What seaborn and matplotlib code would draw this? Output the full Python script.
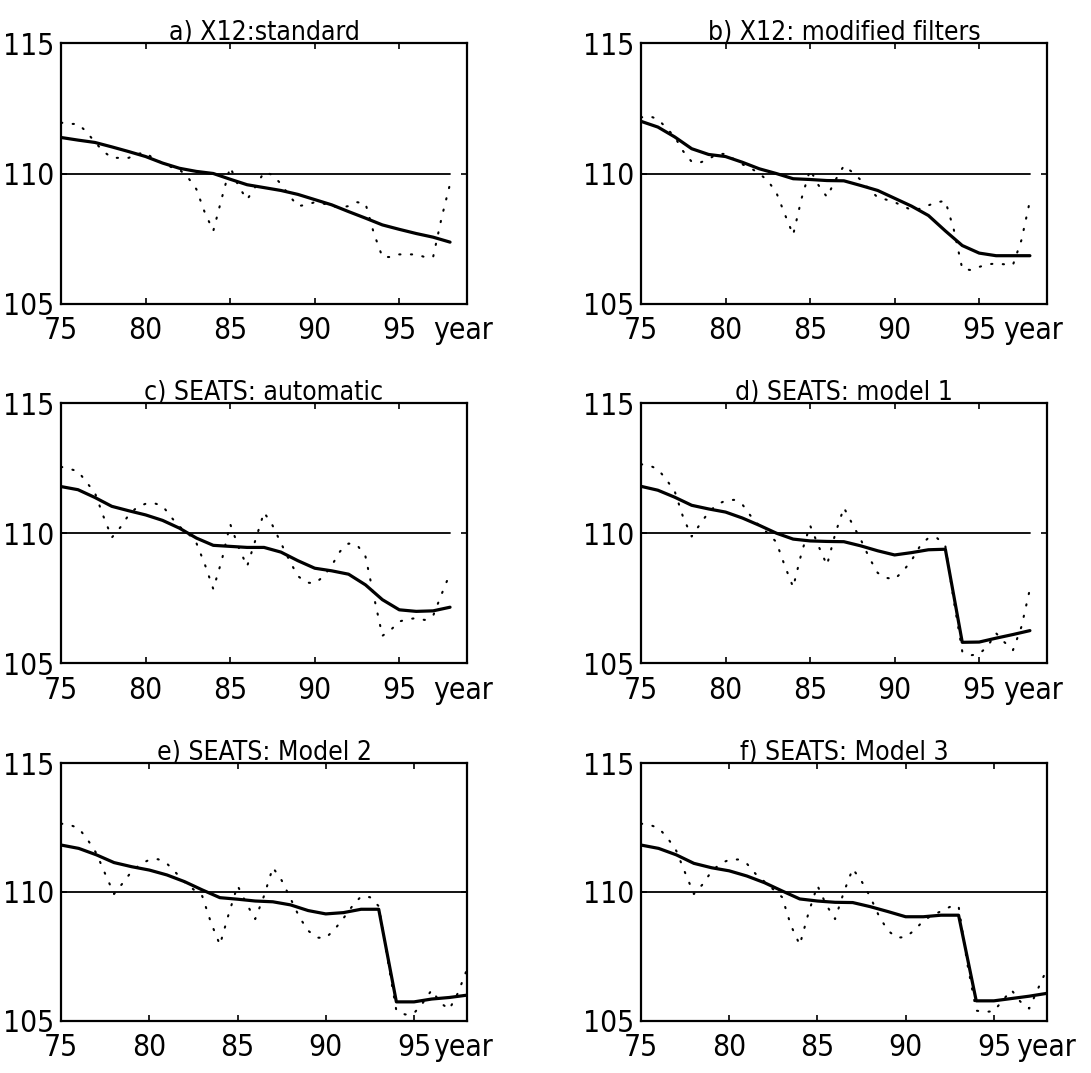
import numpy as np
import pandas as pd
import matplotlib
matplotlib.use("Agg")
import matplotlib.pyplot as plt
from matplotlib import font_manager
import seaborn as sns

# Годы
years = np.arange(75, 99)
half_years = np.arange(75, 98.01, 0.5)

# Тренд (сплошная линия), по годам 75..98
trend_a = [111.38, 111.28, 111.19, 111.02, 110.84, 110.65, 110.4, 110.2, 110.08, 110.0,
           109.78, 109.57, 109.46, 109.35, 109.2, 109.0, 108.8, 108.54, 108.29, 108.03,
           107.86, 107.7, 107.56, 107.37]
trend_b = [112.0, 111.78, 111.4, 110.95, 110.73, 110.65, 110.43, 110.18, 110.0, 109.8,
           109.77, 109.73, 109.72, 109.54, 109.35, 109.05, 108.75, 108.39, 107.8, 107.24,
           106.95, 106.85, 106.85, 106.85]
trend_c = [111.79, 111.67, 111.37, 111.03, 110.86, 110.7, 110.49, 110.19, 109.81, 109.53,
           109.49, 109.45, 109.45, 109.27, 108.94, 108.65, 108.55, 108.42, 108.01, 107.44,
           107.05, 106.99, 107.01, 107.15]
trend_d = [111.8, 111.65, 111.38, 111.07, 110.93, 110.81, 110.58, 110.3, 110.0, 109.77,
           109.7, 109.68, 109.67, 109.51, 109.32, 109.16, 109.25, 109.36, 109.38, 105.8,
           105.81, 105.96, 106.1, 106.25]
trend_e = [111.82, 111.69, 111.44, 111.14, 110.98, 110.85, 110.66, 110.4, 110.08, 109.78,
           109.72, 109.65, 109.62, 109.5, 109.28, 109.15, 109.2, 109.33, 109.33, 105.74,
           105.74, 105.85, 105.91, 106.0]
trend_f = [111.82, 111.69, 111.44, 111.11, 110.94, 110.82, 110.62, 110.36, 110.04, 109.73,
           109.65, 109.6, 109.59, 109.43, 109.24, 109.04, 109.04, 109.1, 109.1, 105.78,
           105.78, 105.87, 105.96, 106.07]

# Исходный ряд (пунктир), по полугодиям 75..98
raw_a = [111.95, 111.9, 111.9, 111.6, 111.2, 110.85, 110.6, 110.6, 110.6, 110.75,
         110.8, 110.55, 110.4, 110.25, 110.15, 109.85, 109.4, 108.5, 107.8, 109.05,
         110.25, 109.5, 109.0, 109.5, 110.05, 109.95, 109.6, 109.15, 108.75, 108.8,
         108.9, 108.85, 108.75, 108.7, 108.75, 108.9, 108.85, 107.7, 106.8, 106.8,
         106.9, 106.9, 106.9, 106.8, 106.8, 108.3, 109.6]
raw_b = [112.15, 112.2, 112.08, 111.75, 111.4, 110.85, 110.45, 110.42, 110.55, 110.75,
         110.75, 110.55, 110.35, 110.2, 110.0, 109.72, 109.28, 108.45, 107.65, 109.05,
         110.15, 109.55, 109.1, 109.75, 110.3, 110.05, 109.75, 109.4, 109.08, 109.0,
         108.9, 108.75, 108.6, 108.65, 108.78, 108.9, 108.95, 107.85, 106.35, 106.3,
         106.42, 106.52, 106.55, 106.52, 106.5, 107.45, 108.95]
raw_c = [112.55, 112.47, 112.38, 111.96, 111.55, 110.65, 109.83, 110.22, 110.7, 111.0,
         111.13, 111.15, 111.05, 110.62, 110.25, 110.0, 109.62, 108.8, 107.85, 108.95,
         110.35, 109.45, 108.72, 109.75, 110.8, 110.3, 109.62, 108.95, 108.35, 108.1,
         108.07, 108.32, 108.75, 109.3, 109.6, 109.55, 109.1, 107.55, 106.05, 106.28,
         106.6, 106.69, 106.73, 106.66, 106.82, 107.65, 108.45]
raw_d = [112.65, 112.6, 112.46, 112.06, 111.6, 110.6, 109.87, 110.35, 110.8, 111.1,
         111.25, 111.28, 111.1, 110.65, 110.28, 110.0, 109.66, 108.75, 107.92, 109.25,
         110.3, 109.5, 108.77, 110.0, 110.98, 110.35, 109.75, 109.05, 108.47, 108.28,
         108.23, 108.54, 108.95, 109.5, 109.82, 109.82, 109.5, 107.4, 105.45, 105.3,
         105.35, 105.65, 106.15, 105.8, 105.5, 106.4, 107.85]
raw_e = [112.65, 112.6, 112.47, 112.03, 111.5, 110.7, 109.92, 110.35, 110.8, 111.08,
         111.25, 111.27, 111.1, 110.75, 110.38, 110.1, 109.84, 108.8, 107.95, 109.15,
         110.25, 109.55, 108.95, 109.85, 110.95, 110.45, 109.75, 109.03, 108.5, 108.23,
         108.22, 108.55, 108.98, 109.45, 109.83, 109.8, 109.45, 107.4, 105.4, 105.25,
         105.3, 105.7, 106.2, 105.7, 105.45, 106.1, 107.0]
raw_f = [112.65, 112.6, 112.48, 112.1, 111.6, 110.75, 109.92, 110.3, 110.8, 111.1,
         111.25, 111.26, 111.1, 110.7, 110.4, 110.1, 109.8, 108.7, 107.95, 109.2,
         110.25, 109.5, 108.95, 110.0, 110.9, 110.42, 109.8, 109.05, 108.5, 108.23,
         108.25, 108.52, 108.88, 109.1, 109.25, 109.42, 109.45, 107.2, 105.4, 105.35,
         105.38, 105.8, 106.2, 105.75, 105.48, 106.25, 107.0]

titles = ["a) X12:standard", "b) X12: modified filters", "c) SEATS: automatic",
          "d) SEATS: model 1", "e) SEATS: Model 2", "f) SEATS: Model 3"]
trends = [trend_a, trend_b, trend_c, trend_d, trend_e, trend_f]
raws = [raw_a, raw_b, raw_c, raw_d, raw_e, raw_f]
x_right = [99, 99, 99, 99, 98, 98]
year_pos = [98.8, 98.2, 98.8, 98.2, 97.8, 97.95]
level = 110

sns.set_style("ticks")

# Ищем узкий шрифт, если он есть
narrow_family = None
narrow_stretch = "normal"
for f in font_manager.fontManager.ttflist:
    st = f.stretch
    if isinstance(st, str):
        st_val = font_manager.stretch_dict.get(st, 500)
    else:
        st_val = st
    if st_val <= 300 and f.style == "normal" and f.weight in (400, "normal", "regular"):
        if narrow_family is None or f.name in ("Liberation Sans Narrow", "DejaVu Sans"):
            narrow_family = f.name
            narrow_stretch = st

if narrow_family is None:
    narrow_family = "DejaVu Sans"
    tick_size, title_size = 19, 17
else:
    tick_size, title_size = 21.5, 19

plt.rcParams["font.family"] = [narrow_family, "DejaVu Sans"]
plt.rcParams["font.stretch"] = narrow_stretch
plt.rcParams["text.color"] = "black"
plt.rcParams["xtick.color"] = "black"
plt.rcParams["ytick.color"] = "black"

fig = plt.figure(figsize=(10.91, 10.73), dpi=100)

# Положение панелей
lefts = [0.056, 0.5875]
bottoms = [0.7167, 0.382, 0.0485]
heights = [0.2432, 0.2423, 0.2404]

for i in range(6):
    r, c = divmod(i, 2)
    ax = fig.add_axes([lefts[c], bottoms[r], 0.372, heights[r]])

    df_trend = pd.DataFrame({"year": years, "value": trends[i]})
    df_raw = pd.DataFrame({"year": half_years, "value": raws[i]})

    sns.lineplot(data=df_raw, x="year", y="value", ax=ax, color="black",
                 linewidth=1.5, linestyle=(0, (0.6, 5.0)), dash_capstyle="round")
    ax.plot([years[0], years[-1]], [level, level], color="black", linewidth=1.3)
    sns.lineplot(data=df_trend, x="year", y="value", ax=ax, color="black",
                 linewidth=2.3)

    ax.set_xlim(75, x_right[i])
    ax.set_ylim(105, 115)
    ax.set_xticks([75, 80, 85, 90, 95])
    ax.set_yticks([105, 110, 115])
    ax.set_xticks([year_pos[i]], minor=True)
    ax.set_xticklabels(["year"], minor=True)
    ax.tick_params(which="major", direction="in", top=True, right=True,
                   length=4, width=1.2, labelsize=tick_size)
    ax.tick_params(axis="x", which="major", pad=9)
    ax.tick_params(axis="y", which="major", pad=5)
    ax.tick_params(axis="x", which="minor", length=0, labelsize=tick_size, pad=9)
    ax.tick_params(axis="y", which="minor", left=False, right=False)
    ax.set_xlabel("")
    ax.set_ylabel("")
    for s in ax.spines.values():
        s.set_linewidth(1.6)
        s.set_color("black")
    ax.set_title(titles[i], fontsize=title_size, pad=2)

fig.savefig("out.png", dpi=100)
